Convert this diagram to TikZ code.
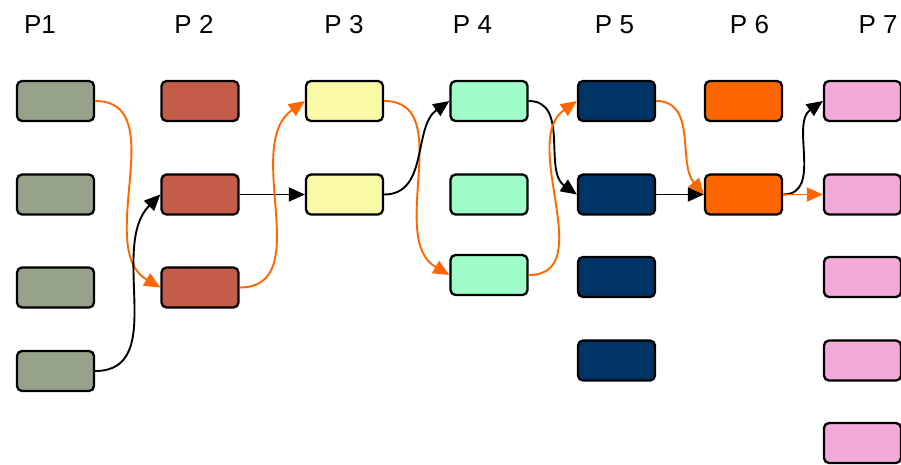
\documentclass[tikz,border=0pt]{standalone}
\usepackage{fontspec}
\setmainfont{Liberation Sans}
\usetikzlibrary{arrows.meta}
\definecolor{cA}{HTML}{96A38A}
\definecolor{cB}{HTML}{C55C4A}
\definecolor{cC}{HTML}{F9F9A8}
\definecolor{cD}{HTML}{A0FCC8}
\definecolor{cE}{HTML}{003366}
\definecolor{cF}{HTML}{FF6600}
\definecolor{cG}{HTML}{F2AAD9}
\definecolor{lnO}{HTML}{FF6600}
\tikzset{
  box/.style={draw=black, line width=2.3pt, rounded corners=5pt, minimum width=77pt, minimum height=40pt, inner sep=0pt},
  lbl/.style={anchor=base, font=\fontsize{26}{28}\selectfont, inner sep=0pt},
  blk/.style={draw=black, line width=1.9pt, -{Triangle[length=16pt,width=14pt]}},
  org/.style={draw=lnO, line width=1.9pt, -{Triangle[length=16pt,width=14pt]}, color=lnO},
}
\begin{document}
\begin{tikzpicture}[x=1pt,y=-1pt]
\useasboundingbox (0,0) rectangle (901,464);
% labels
\node[lbl] (l1) at (40,33) {P1};
\node[lbl] (l2) at (194,33) {P 2};
\node[lbl] (l3) at (344,33) {P 3};
\node[lbl] (l4) at (472.5,33) {P 4};
\node[lbl] (l5) at (614.5,33) {P 5};
\node[lbl] (l6) at (749.5,33) {P 6};
\node[lbl] (l7) at (878,33) {P 7};
% P1
\node[box, fill=cA] (a1) at (55.5,101) {};
\node[box, fill=cA] (a2) at (55.5,194.5) {};
\node[box, fill=cA] (a3) at (55.5,287.5) {};
\node[box, fill=cA] (a4) at (55.5,371) {};
% P2
\node[box, fill=cB] (b1) at (200,101) {};
\node[box, fill=cB] (b2) at (200,194.5) {};
\node[box, fill=cB] (b3) at (200,287.5) {};
% P3
\node[box, fill=cC] (c1) at (344.5,101) {};
\node[box, fill=cC] (c2) at (344.5,194.5) {};
% P4
\node[box, fill=cD] (d1) at (489,101) {};
\node[box, fill=cD] (d2) at (489,194.5) {};
\node[box, fill=cD] (d3) at (489,275) {};
% P5
\node[box, fill=cE] (e1) at (616.5,101) {};
\node[box, fill=cE] (e2) at (616.5,194.5) {};
\node[box, fill=cE] (e3) at (616.5,277) {};
\node[box, fill=cE] (e4) at (616.5,360.5) {};
% P6
\node[box, fill=cF] (f1) at (743.5,101) {};
\node[box, fill=cF] (f2) at (743.5,194.5) {};
% P7
\node[box, fill=cG] (g1) at (862.5,101) {};
\node[box, fill=cG] (g2) at (862.5,194.5) {};
\node[box, fill=cG] (g3) at (862.5,277) {};
\node[box, fill=cG] (g4) at (862.5,360.5) {};
\node[box, fill=cG] (g5) at (862.5,443) {};
% connectors
\draw[org] (a1.east) to[out=0,in=150] (b3.west);
\draw[blk] (a4.east) to[out=0,in=225] (b2.west);
\draw[blk] (b2.east) -- (c2.west);
\draw[org] (b3.east) to[out=0,in=215] (c1.west);
\draw[org] (c1.east) to[out=0,in=150] (d3.west);
\draw[blk] (c2.east) to[out=0,in=215] (d1.west);
\draw[blk] (d1.east) to[out=0,in=145] (e2.west);
\draw[org] (d3.east) to[out=0,in=215] (e1.west);
\draw[org] (e1.east) to[out=0,in=130] (f2.west);
\draw[blk] (e2.east) -- (f2.west);
\draw[blk] (f2.east) to[out=0,in=215] (g1.west);
\draw[org] (f2.east) -- (g2.west);
\end{tikzpicture}
\end{document}
